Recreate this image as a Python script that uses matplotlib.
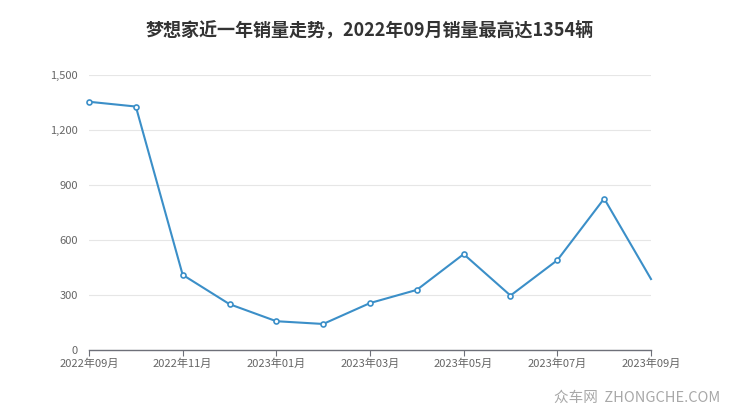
import matplotlib
matplotlib.use("Agg")
import matplotlib.pyplot as plt

plt.rcParams['font.family'] = ['Noto Sans CJK SC', 'DejaVu Sans']

months = ["2022年09月", "2022年10月", "2022年11月", "2022年12月", "2023年01月", "2023年02月",
          "2023年03月", "2023年04月", "2023年05月", "2023年06月", "2023年07月", "2023年08月",
          "2023年09月"]
sales = [1354, 1328, 410, 250, 157, 142, 256, 328, 523, 297, 490, 826, 387]
yticks = [0, 300, 600, 900, 1200, 1500]
title = "梦想家近一年销量走势，2022年09月销量最高达1354辆"

fig = plt.figure(figsize=(7.4, 4.17), dpi=100)
ax = fig.add_axes([89/740, 1-350/417, (651-89)/740, (350-75)/417])

x = list(range(len(months)))
color = "#3b8fc8"
ax.plot(x, sales, color=color, lw=1.5, zorder=3, clip_on=False)
ax.plot(x[:-1], sales[:-1], ls='none', marker='o', ms=3.6, mfc='white', mec=color, mew=1.2, zorder=4, clip_on=False)

ax.set_xlim(0, len(months) - 1)
ax.set_ylim(0, 1500)
ax.set_yticks(yticks)
ax.set_yticklabels([f"{v:,}" for v in yticks])
ax.set_xticks(x[::2])
ax.set_xticklabels(months[::2])

ax.grid(axis='y', color='#e6e6e6', lw=0.8)
ax.set_axisbelow(True)
for s in ['top', 'right', 'left']:
    ax.spines[s].set_visible(False)
ax.spines['bottom'].set_color('#6e7079')
ax.spines['bottom'].set_linewidth(1.0)
ax.tick_params(axis='y', length=0, pad=8, labelsize=8, labelcolor='#666666')
ax.tick_params(axis='x', length=4, color='#6e7079', pad=2, labelsize=8, labelcolor='#666666')

fig.text(0.5, 1-30/417, title, ha='center', va='center', fontsize=13, fontweight='bold', color='#333333')
fig.text(0.973, 1-398/417, "众车网  ZHONGCHE.COM", ha='right', va='center', fontsize=10.5, color='#a8a8a8')

fig.savefig("out.png", dpi=100)
